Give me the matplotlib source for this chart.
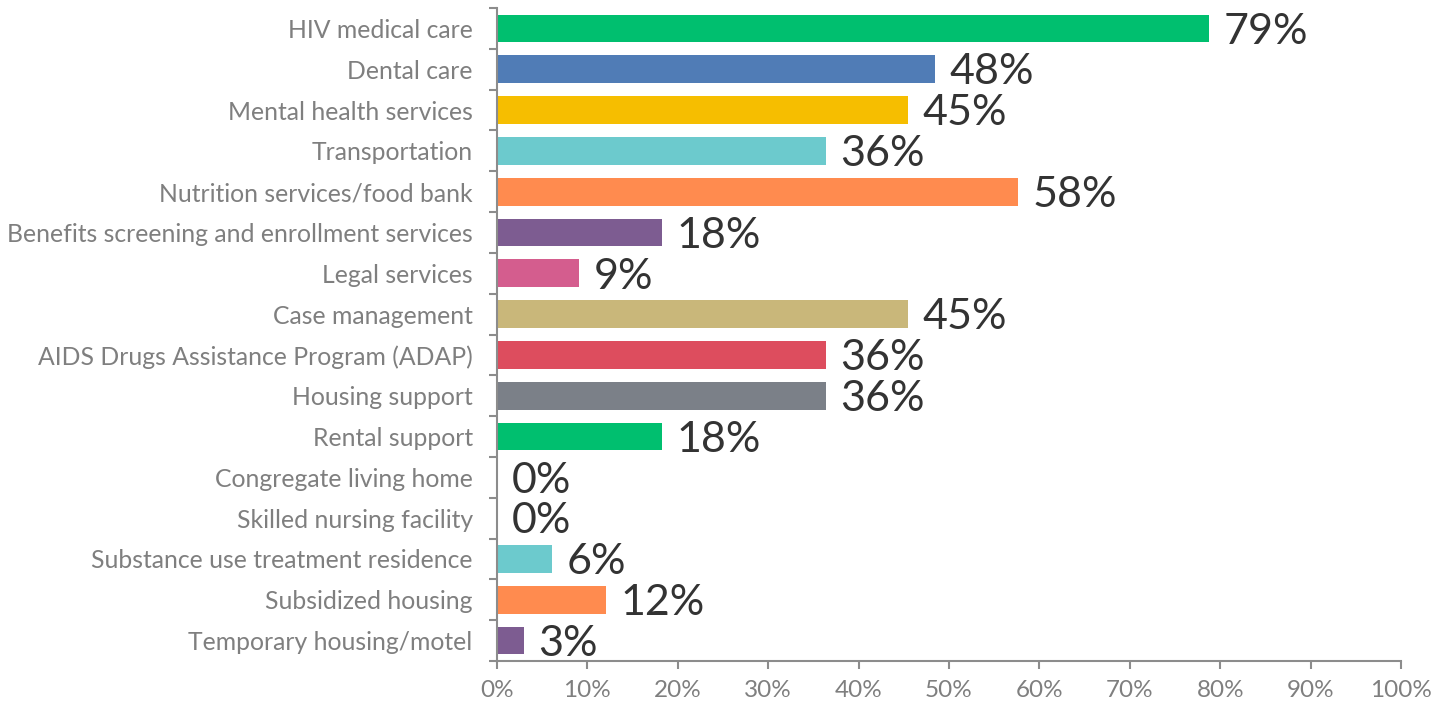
import matplotlib
matplotlib.use("Agg")
import matplotlib.pyplot as plt
from matplotlib.ticker import FixedLocator, PercentFormatter

categories = [
    "HIV medical care",
    "Dental care",
    "Mental health services",
    "Transportation",
    "Nutrition services/food bank",
    "Benefits screening and enrollment services",
    "Legal services",
    "Case management",
    "AIDS Drugs Assistance Program (ADAP)",
    "Housing support",
    "Rental support",
    "Congregate living home",
    "Skilled nursing facility",
    "Substance use treatment residence",
    "Subsidized housing",
    "Temporary housing/motel",
]
values = [78.8, 48.5, 45.5, 36.4, 57.6, 18.2, 9.1, 45.5, 36.4, 36.4, 18.2, 0.0, 0.0, 6.1, 12.1, 3.0]
labels = ["79%", "48%", "45%", "36%", "58%", "18%", "9%", "45%", "36%", "36%", "18%", "0%", "0%", "6%", "12%", "3%"]
colors = ["#00BF6F", "#507CB6", "#F6BE00", "#6CCACD", "#FF8B4F", "#7D5C91",
          "#D45D8E", "#C9B77A", "#DD4D5E", "#7B8088",
          "#00BF6F", "#507CB6", "#F6BE00", "#6CCACD", "#FF8B4F", "#7D5C91"]

plt.rcParams['font.family'] = ['Lato', 'DejaVu Sans']

fig = plt.figure(figsize=(14.33, 7.06), dpi=100)
ax = fig.add_axes([0.3468, 0.0637, 0.6309, 0.925])

n = len(categories)
ypos = list(range(n))
ax.barh(ypos, values, height=0.68, color=colors)
for y, v, lab in zip(ypos, values, labels):
    ax.text(v + 1.6, y + 0.08, lab, va="center", ha="left", fontsize=31, color="#333333")

ax.set_xlim(0, 100)
ax.set_ylim(n - 0.5, -0.5)
ax.xaxis.set_major_locator(FixedLocator(range(0, 101, 10)))
ax.xaxis.set_major_formatter(PercentFormatter(decimals=0))
ax.set_yticks(ypos)
ax.set_yticklabels(categories)
ax.yaxis.set_minor_locator(FixedLocator([i - 0.5 for i in range(n + 1)]))
ax.tick_params(axis="y", which="major", length=0, pad=17.5, labelsize=17.8, labelcolor="#7F7F7F")
ax.tick_params(axis="y", which="minor", length=6, width=1.5, color="#8C8C8C")
ax.tick_params(axis="x", which="major", length=6, width=1.5, color="#8C8C8C",
               labelsize=17.5, labelcolor="#7F7F7F", pad=8)
for s in ["top", "right"]:
    ax.spines[s].set_visible(False)
for s in ["left", "bottom"]:
    ax.spines[s].set_color("#8C8C8C")
    ax.spines[s].set_linewidth(1.5)

fig.savefig("out.png", dpi=100)
